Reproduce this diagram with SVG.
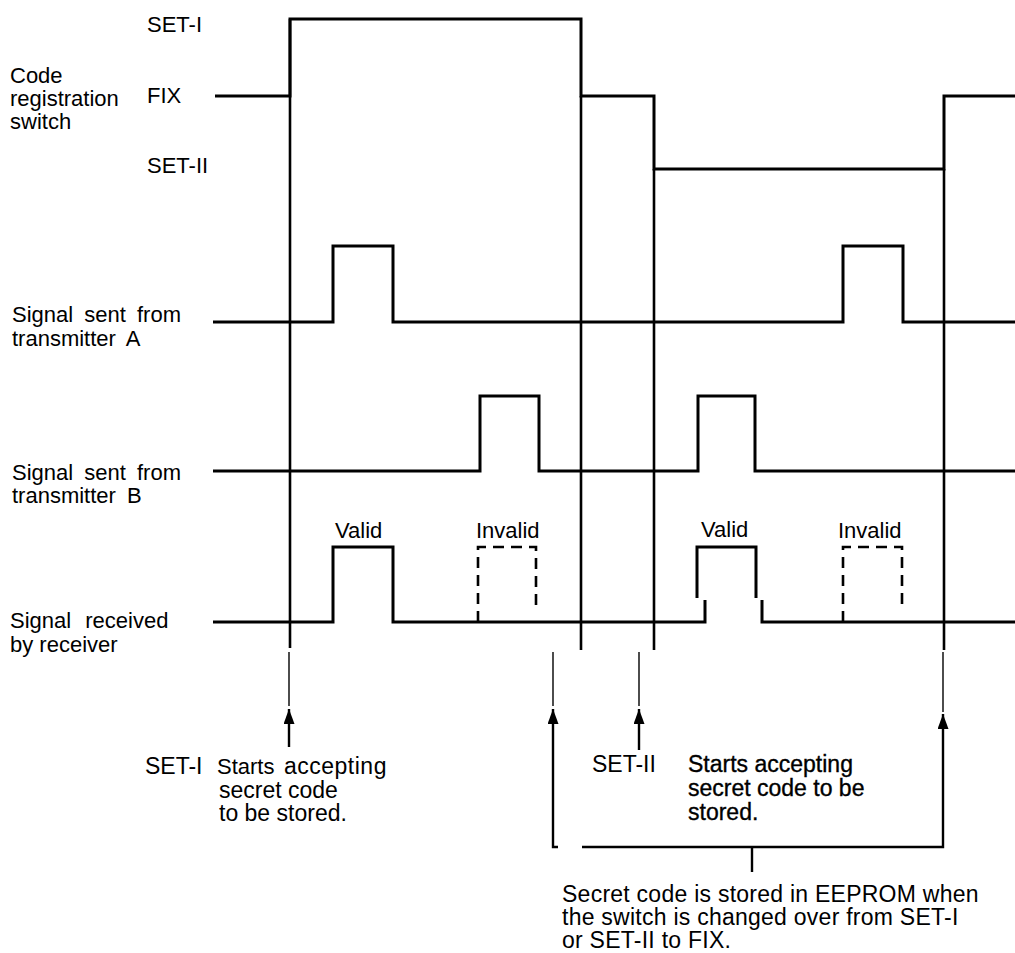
<svg xmlns="http://www.w3.org/2000/svg" width="1015" height="953" viewBox="0 0 1015 953">
<style>
.t{font-family:"Liberation Sans",Arial,Helvetica,sans-serif;font-size:22px;fill:#000}
.tn{font-family:"Liberation Sans",Arial,Helvetica,sans-serif;font-size:23px;fill:#000}
.tb{font-family:"Liberation Sans",Arial,Helvetica,sans-serif;font-size:23px;fill:#000;stroke:#000;stroke-width:0.35}
.te{font-family:"Liberation Sans",Arial,Helvetica,sans-serif;font-size:23px;letter-spacing:0.25px;fill:#000}
.w{fill:none;stroke:#000;stroke-width:3;stroke-linejoin:miter;stroke-linecap:butt}
.d{fill:none;stroke:#000;stroke-width:2.6;stroke-dasharray:11,7}
.v{fill:none;stroke:#000;stroke-width:2.6}
.thin{fill:none;stroke:#000;stroke-width:1.4}
.sh{fill:none;stroke:#000;stroke-width:2.4}
</style>
<defs>
<marker id="ah" viewBox="-15 -5.5 15 11" markerWidth="15" markerHeight="11" refX="0" refY="0" orient="auto" markerUnits="userSpaceOnUse">
<path d="M0,0 L-15,-5.5 L-15,5.5 Z" fill="#000"/>
</marker>
</defs>
<rect width="1015" height="953" fill="#fff"/>

<g id="code-switch">
<text class="t"><tspan x="10" y="83">Code</tspan><tspan x="10" y="106">registration</tspan><tspan x="10" y="129">switch</tspan></text>
<text class="t" x="147" y="32">SET-I</text>
<text class="t" x="147" y="103">FIX</text>
<text class="t" x="147" y="173">SET-II</text>
<path class="w" d="M215,96 H290 V19 H581 V96 H654 V169 H944 V96 H1015"/>
</g>

<g id="signal-a">
<text class="t" word-spacing="5"><tspan x="12" y="322">Signal sent from</tspan><tspan x="12" y="346">transmitter A</tspan></text>
<path class="w" d="M213,322 H333 V246 H393 V322 H843 V246 H903 V322 H1015"/>
</g>

<g id="signal-b">
<text class="t" word-spacing="5"><tspan x="12" y="480">Signal sent from</tspan><tspan x="12" y="503">transmitter B</tspan></text>
<path class="w" d="M213,471 H480 V396 H539 V471 H698 V396 H755 V471 H1015"/>
</g>

<g id="signal-rx">
<text class="t"><tspan x="10" y="628" word-spacing="8">Signal received</tspan><tspan x="10" y="652">by receiver</tspan></text>
<text class="t" x="335" y="538">Valid</text>
<text class="t" x="476" y="538">Invalid</text>
<text class="t" x="701" y="537">Valid</text>
<text class="t" x="838" y="538">Invalid</text>
<path class="w" d="M213,622 H333 V547 H393 V622 H705 V600"/>
<path class="w" d="M697,598 V547 H756 V598"/>
<path class="w" d="M762,600 V622 H1015"/>
<path class="d" d="M478,622 V547 H536 V612"/>
<path class="d" d="M843,622 V547 H902 V604"/>
</g>

<g id="connectors">
<line class="v" x1="290" y1="19" x2="290" y2="648"/>
<line class="v" x1="581" y1="96" x2="581" y2="650"/>
<line class="v" x1="654" y1="169" x2="654" y2="650"/>
<line class="v" x1="944" y1="169" x2="944" y2="650"/>

<line class="thin" x1="289" y1="652" x2="289" y2="706"/>
<line class="sh" x1="289" y1="747" x2="289" y2="709" marker-end="url(#ah)"/>

<line class="thin" x1="553" y1="652" x2="553" y2="706"/>
<path class="sh" d="M558,847 H553 V709" marker-end="url(#ah)"/>

<line class="thin" x1="639" y1="652" x2="639" y2="706"/>
<line class="sh" x1="639" y1="750" x2="639" y2="709" marker-end="url(#ah)"/>

<line class="thin" x1="943" y1="652" x2="943" y2="712"/>
<path class="sh" d="M582,847 H943 V714" marker-end="url(#ah)"/>
<line class="sh" x1="752" y1="847" x2="752" y2="872"/>
</g>

<g id="annotations">
<text class="tn"><tspan x="145" y="774">SET-I</tspan><tspan x="217" y="774" font-size="22">Starts</tspan><tspan x="284" y="774" letter-spacing="0.5">accepting</tspan><tspan x="219" y="798">secret code</tspan><tspan x="219" y="821">to be stored.</tspan></text>
<text class="tn" x="592" y="772">SET-II</text>
<text class="tb"><tspan x="688" y="772">Starts accepting</tspan><tspan x="688" y="796">secret code to be</tspan><tspan x="688" y="820">stored.</tspan></text>
<text class="te"><tspan x="562" y="902">Secret code is stored in EEPROM when</tspan><tspan x="562" y="925">the switch is changed over from SET-I</tspan><tspan x="562" y="948">or SET-II to FIX.</tspan></text>
</g>
</svg>
